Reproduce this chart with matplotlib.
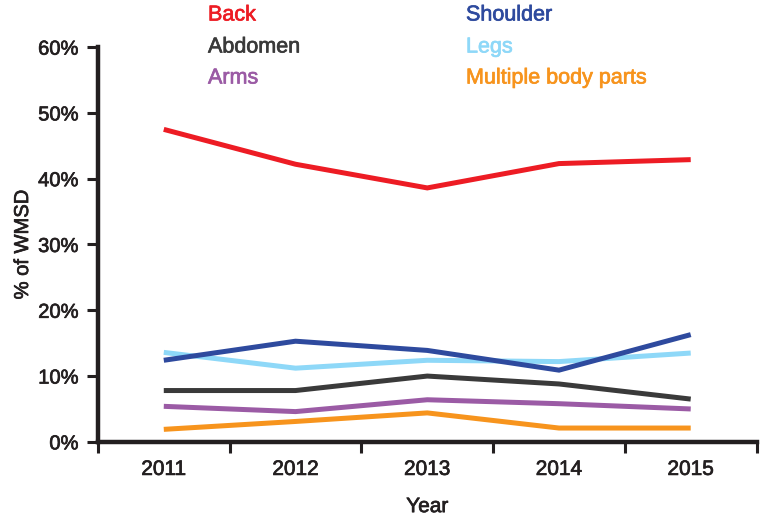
import matplotlib
matplotlib.use("Agg")
import matplotlib.pyplot as plt
import matplotlib.patheffects as pe
import numpy as np

years = ["2011", "2012", "2013", "2014", "2015"]
series_names = ["Back", "Shoulder", "Abdomen", "Legs", "Arms", "Multiple body parts"]
back = [47.5, 42.2, 38.6, 42.3, 42.9]
shoulder = [12.4, 15.3, 13.9, 10.9, 16.3]
abdomen = [7.8, 7.8, 10.0, 8.8, 6.5]
legs = [13.6, 11.2, 12.4, 12.2, 13.5]
arms = [5.4, 4.6, 6.4, 5.8, 5.0]
multiple = [1.9, 3.1, 4.4, 2.1, 2.1]
y_ticks = [0, 10, 20, 30, 40, 50, 60]

colors = {
    "Back": "#ED1C24",
    "Shoulder": "#2E4A9E",
    "Abdomen": "#3A3A3A",
    "Legs": "#8ED8F8",
    "Arms": "#9B5BA5",
    "Multiple body parts": "#F7941D",
}
values = {
    "Back": back, "Shoulder": shoulder, "Abdomen": abdomen,
    "Legs": legs, "Arms": arms, "Multiple body parts": multiple,
}

plt.rcParams['font.family'] = ['Liberation Sans', 'DejaVu Sans']
TXT = '#231F20'

def heavy(color):
    return [pe.withStroke(linewidth=0.5, foreground=color)]

fig = plt.figure(figsize=(7.65, 5.18), dpi=100)
ax = fig.add_axes([0.128, 0.147, 0.861, 0.762])

x = np.arange(len(years)) + 0.5
draw_order = ["Multiple body parts", "Arms", "Abdomen", "Legs", "Shoulder", "Back"]
for name in draw_order:
    ax.plot(x, values[name], color=colors[name], lw=3.6, solid_joinstyle='miter',
            solid_capstyle='butt')

ax.set_xlim(0, len(years))
ax.set_ylim(0, 60)
ax.set_yticks(y_ticks)
ax.set_yticklabels([f"{v}%" for v in y_ticks])
ax.set_xticks(np.arange(len(years) + 1))
ax.set_xticklabels([])
ax.set_xticks(x, minor=True)
ax.set_xticklabels(years, minor=True)
ax.tick_params(axis='x', which='minor', length=0, pad=13, labelsize=15, colors=TXT)
ax.tick_params(axis='x', which='major', length=8, width=2.2, direction='out', color=TXT)
ax.tick_params(axis='y', length=8, width=2.2, direction='out', pad=6, labelsize=14.5,
               color=TXT, labelcolor=TXT)
for lab in ax.get_xticklabels(minor=True) + ax.get_yticklabels():
    lab.set_path_effects(heavy(TXT))

for s in ['top', 'right']:
    ax.spines[s].set_visible(False)
for s in ['left', 'bottom']:
    ax.spines[s].set_linewidth(3.2)
    ax.spines[s].set_color(TXT)

yl = ax.set_ylabel("% of WMSD", fontsize=14.5, color=TXT)
xl = ax.set_xlabel("Year", fontsize=15, color=TXT)
yl.set_path_effects(heavy(TXT))
xl.set_path_effects(heavy(TXT))
ax.xaxis.set_label_coords(0.5, -0.14)
ax.yaxis.set_label_coords(-0.1, 0.5)

# legend as coloured text labels
legend_layout = [
    ("Back", 208, 15), ("Abdomen", 208, 47), ("Arms", 208, 78),
    ("Shoulder", 466, 15), ("Legs", 466, 47), ("Multiple body parts", 466, 78),
]
for name, px, py in legend_layout:
    t = fig.text(px / 765, 1 - py / 518, name, color=colors[name], fontsize=15.5,
                 va='center', ha='left')
    t.set_path_effects(heavy(colors[name]))

fig.savefig("out.png", dpi=100)
